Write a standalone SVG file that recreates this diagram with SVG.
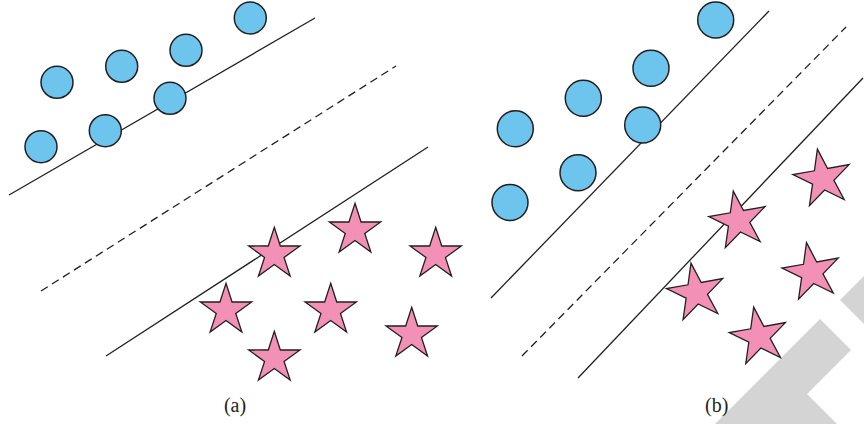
<svg xmlns="http://www.w3.org/2000/svg" xmlns:xlink="http://www.w3.org/1999/xlink" width="864" height="424" viewBox="0 0 864 424">
  <style>
    .ln { stroke: #231f20; stroke-width: 1.3; fill: none; }
    .dash { stroke-dasharray: 8 5; }
    .dot { fill: #6dc5ee; stroke: #231f20; stroke-width: 1.5; }
    .star { fill: #f291b5; stroke: #231f20; stroke-width: 1.3; stroke-linejoin: miter; }
    .lbl { font-family: "Liberation Serif", "Times New Roman", serif; font-size: 20px; fill: #231f20; text-anchor: middle; }
    .wm { fill: #d4d4d4; }
  </style>
  <defs>
    <path id="starA" d="M0,-27 L6.03,-8.3 L25.68,-8.34 L9.76,3.17 L15.87,21.84 L0,10.26 L-15.87,21.84 L-9.76,3.17 L-25.68,-8.34 L-6.03,-8.3 Z"/>
    <path id="starB" d="M0,-30 L6.7,-9.22 L28.53,-9.27 L10.84,3.52 L17.63,24.27 L0,11.4 L-17.63,24.27 L-10.84,3.52 L-28.53,-9.27 L-6.7,-9.22 Z"/>
  </defs>

  <g id="watermark">
    <polygon class="wm" points="715,424 820,319 851,350 807,394 837,424"/>
    <polygon class="wm" points="840,300 864,276 864,324"/>
  </g>

  <g id="connectors">
    <line class="ln" x1="9" y1="195" x2="315" y2="18"/>
    <line class="ln dash" x1="41" y1="291" x2="396" y2="66"/>
    <line class="ln" x1="106" y1="356" x2="428" y2="147"/>
    <line class="ln" x1="491" y1="298" x2="769" y2="11"/>
    <line class="ln dash" x1="522" y1="356" x2="846" y2="27"/>
    <line class="ln" x1="578" y1="378" x2="863" y2="78"/>
  </g>

  <g id="panel-a">
    <g id="a-circle-1"><circle class="dot" cx="57" cy="82.3" r="16"/></g>
    <g id="a-circle-2"><circle class="dot" cx="121.7" cy="66.3" r="16"/></g>
    <g id="a-circle-3"><circle class="dot" cx="186" cy="50.3" r="16"/></g>
    <g id="a-circle-4"><circle class="dot" cx="250.3" cy="18" r="16"/></g>
    <g id="a-circle-5"><circle class="dot" cx="41" cy="146.7" r="16"/></g>
    <g id="a-circle-6"><circle class="dot" cx="105.3" cy="130.7" r="16"/></g>
    <g id="a-circle-7"><circle class="dot" cx="170" cy="98.3" r="16"/></g>

    <g id="a-star-1"><use xlink:href="#starA" class="star" transform="translate(274.3,254.3)"/></g>
    <g id="a-star-2"><use xlink:href="#starA" class="star" transform="translate(355,230.3)"/></g>
    <g id="a-star-3"><use xlink:href="#starA" class="star" transform="translate(435.7,254.3)"/></g>
    <g id="a-star-4"><use xlink:href="#starA" class="star" transform="translate(226,310.3)"/></g>
    <g id="a-star-5"><use xlink:href="#starA" class="star" transform="translate(330.7,310.3)"/></g>
    <g id="a-star-6"><use xlink:href="#starA" class="star" transform="translate(411.7,334.3)"/></g>
    <g id="a-star-7"><use xlink:href="#starA" class="star" transform="translate(274.3,358.3)"/></g>

    <g id="label-a"><text class="lbl" x="235" y="412">(a)</text></g>
  </g>

  <g id="panel-b">
    <g id="b-circle-1"><circle class="dot" cx="715.7" cy="20" r="18"/></g>
    <g id="b-circle-2"><circle class="dot" cx="651" cy="68.3" r="18"/></g>
    <g id="b-circle-3"><circle class="dot" cx="583.3" cy="98.3" r="18"/></g>
    <g id="b-circle-4"><circle class="dot" cx="515.3" cy="128.7" r="18"/></g>
    <g id="b-circle-5"><circle class="dot" cx="642.7" cy="125" r="18"/></g>
    <g id="b-circle-6"><circle class="dot" cx="578" cy="172.7" r="18"/></g>
    <g id="b-circle-7"><circle class="dot" cx="510" cy="202.5" r="18"/></g>

    <g id="b-star-1"><use xlink:href="#starB" class="star" transform="translate(738.5,220.7) rotate(-10)"/></g>
    <g id="b-star-2"><use xlink:href="#starB" class="star" transform="translate(822.6,178.7) rotate(-10)"/></g>
    <g id="b-star-3"><use xlink:href="#starB" class="star" transform="translate(696.2,292.7) rotate(-10)"/></g>
    <g id="b-star-4"><use xlink:href="#starB" class="star" transform="translate(811.7,272.2) rotate(-10)"/></g>
    <g id="b-star-5"><use xlink:href="#starB" class="star" transform="translate(758.9,336.7) rotate(-10)"/></g>

    <g id="label-b"><text class="lbl" x="716.7" y="412">(b)</text></g>
  </g>
</svg>
